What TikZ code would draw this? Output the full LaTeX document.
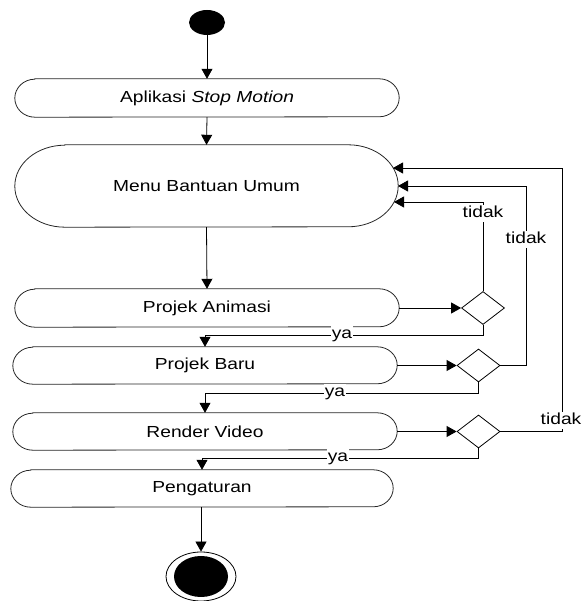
\documentclass[tikz,border=0pt]{standalone}
\usepackage{fontspec}
\setmainfont{Liberation Sans}[FakeStretch=1.2]
\usetikzlibrary{arrows.meta,shapes.geometric}

% outline of an activity box with elliptic ends: node, x radius, y radius
\newcommand\pilloutline[3]{%
  \draw[outline] ([xshift=#2pt]#1.north west) -- ([xshift=-#2pt]#1.north east)
    arc[start angle=90,end angle=-90,x radius=#2,y radius=#3]
    -- ([xshift=#2pt]#1.south west)
    arc[start angle=270,end angle=90,x radius=#2,y radius=#3] -- cycle;}

\begin{document}
\begin{tikzpicture}[x=1pt,y=1pt,
  every node/.style={font=\fontsize{16}{19}\selectfont},
  outline/.style={draw=black!85,line width=0.8pt},
  activity/.style={inner sep=0pt,minimum width=#1},
  decision/.style={diamond,draw,line width=0.8pt,inner sep=0pt,
    minimum width=43,minimum height=33},
  arr/.style={line width=0.8pt,-{Triangle[length=10pt,width=11pt]}},
  lbl/.style={fill=white,inner sep=1pt,text height=11.5pt,text depth=3.5pt}]
\useasboundingbox (0,0) rectangle (582,601);

% start and end states
\node[ellipse,fill=black,inner sep=0pt,minimum width=36,minimum height=25] (start) at (207,578.5) {};
\node[ellipse,draw,line width=0.8pt,inner sep=0pt,minimum width=70,minimum height=49] (fin) at (201,24.5) {};
\fill (fin.center) ellipse [x radius=27,y radius=20.5];

% activities
\node[activity=384,minimum height=38] (apl) at (207,503) {Aplikasi \textit{Stop Motion}};
\node[activity=383,minimum height=82] (menu) at (206.5,415) {Menu Bantuan Umum};
\node[activity=384,minimum height=38] (pa) at (207,293) {Projek Animasi};
\node[activity=384,minimum height=37] (pb) at (205,235.5) {Projek Baru};
\node[activity=384,minimum height=37] (rv) at (205,169.5) {Render Video};
\node[activity=382,minimum height=37] (peng) at (202,112.5) {Pengaturan};
\pilloutline{apl}{20}{19}
\pilloutline{menu}{50}{41}
\pilloutline{pa}{20}{19}
\pilloutline{pb}{20}{18.5}
\pilloutline{rv}{20}{18.5}
\pilloutline{peng}{20}{18.5}

% decisions
\node[decision] (d1) at (483,293) {};
\node[decision] (d2) at (478.5,235.5) {};
\node[decision] (d3) at (478.5,169.5) {};

% entry points on the right end of the menu box
\coordinate (m1) at (393,433);
\coordinate (m2) at (398,415);
\coordinate (m3) at (394,399);

% main flow
\draw[arr] (start.south) -- (apl.north);
\draw[arr] (apl.south) -- (menu.north);
\draw[arr] (menu.south) -- (pa.north);
\draw[arr] (pa.east) -- (d1.west);
\draw[arr] (pb.east) -- (d2.west);
\draw[arr] (rv.east) -- (d3.west);
\draw[arr] (d1.south) -- ++(0,-10.5) -| (pb.north);
\draw[arr] (d2.south) -- ++(0,-11) -| (rv.north);
\draw[arr] (d3.south) -- ++(0,-10) -| (peng.north);
\draw[arr] (fin.north |- peng.south) -- (fin.north);

% back to the menu
\draw[arr] (d1.north) |- (m3);
\draw[arr] (d2.east) -- ++(26,0) |- (m2);
\draw[arr] (d3.east) -- ++(62,0) |- (m1);

% guard labels
\node[lbl] (t1) at (483,387) {tidak};
\node[lbl] (t2) at (526,361) {tidak};
\node[lbl] (t3) at (561,180) {tidak};
\node[lbl] (y1) at (342,266) {ya};
\node[lbl] (y2) at (335,208) {ya};
\node[lbl] (y3) at (338,143) {ya};
\end{tikzpicture}
\end{document}
